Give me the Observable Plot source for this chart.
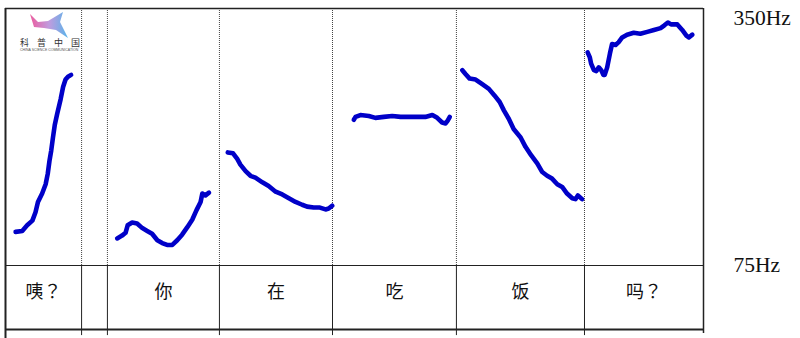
<!DOCTYPE html>
<html>
<head>
<meta charset="utf-8">
<script src="https://cdn.jsdelivr.net/npm/d3@7"></script>
<script src="https://cdn.jsdelivr.net/npm/@observablehq/plot@0.6"></script>
<style>
  body { margin: 0; background: #fff; }
  #chart { position: relative; width: 800px; height: 338px; overflow: hidden; }
  #logo { position: absolute; left: 0; top: 0; }
</style>
</head>
<body>
<div id="chart"></div>
<script>
// ---- data ----
const syllables = ["咦？", "", "你", "在", "吃", "饭", "吗？"];
const boundaries = [0, 0.218, 0.292, 0.613, 0.937, 1.292, 1.659, 2.0]; // seconds
const hzTicks = [350, 75];

const yiT  = [0.029,0.048,0.062,0.077,0.086,0.093,0.105,0.115,0.121,0.126,0.131,0.136,0.141,0.148,0.158,0.165,0.172,0.179,0.188];
const yiHz = [111,112,118,123,132,143,152,162,173,187,198,212,225,237,253,266,274,277,279];

const niT  = [0.320,0.334,0.344,0.350,0.363,0.377,0.392,0.406,0.420,0.435,0.449,0.463,0.478,0.492,0.506,0.521,0.535,0.547,0.559,0.564,0.573,0.583];
const niHz = [104,107,110,118,121,120,115,112,109,102,99,97,97,102,108,116,124,134,143,152,150,153];

const zaiT  = [0.637,0.652,0.664,0.673,0.688,0.702,0.716,0.736,0.754,0.774,0.793,0.812,0.831,0.850,0.864,0.883,0.901,0.917,0.926,0.936];
const zaiHz = [196,195,189,183,176,171,169,164,160,154,151,147,143,140,138,137,137,135,136,139];

const chiT  = [0.998,1.003,1.017,1.041,1.060,1.084,1.108,1.132,1.156,1.180,1.203,1.223,1.237,1.251,1.261,1.267,1.273];
const chiHz = [231,234,236,235,233,234,235,234,234,234,234,236,233,228,227,230,234];

const fanT  = [1.309,1.318,1.330,1.347,1.366,1.385,1.401,1.416,1.428,1.442,1.456,1.476,1.490,1.506,1.524,1.538,1.552,1.566,1.581,1.595,1.609,1.624,1.633,1.640,1.652];
const fanHz = [284,280,275,274,269,264,257,250,241,232,221,212,202,193,184,175,171,168,162,159,152,147,146,150,146];

const maT  = [1.668,1.674,1.678,1.686,1.693,1.700,1.707,1.713,1.717,1.724,1.732,1.738,1.748,1.757,1.767,1.781,1.800,1.819,1.839,1.858,1.877,1.888,1.898,1.907,1.925,1.939,1.951,1.958,1.968];
const maHz = [303,298,291,284,283,287,284,279,279,287,302,312,311,314,319,322,324,323,325,327,329,332,335,333,333,327,321,319,322];

// ---- tables built from the arrays ----
const segments = [["咦", yiT, yiHz], ["你", niT, niHz], ["在", zaiT, zaiHz], ["吃", chiT, chiHz], ["饭", fanT, fanHz], ["吗", maT, maHz]];
const contour = segments.flatMap(([seg, ts, hs]) => ts.map((t, i) => ({seg, t, hz: hs[i]})));
const cells = syllables.map((label, i) => ({label, x: (boundaries[i] + boundaries[i + 1]) / 2}));
const inner = boundaries.slice(1, -1);

const lineColor = "#222";
const hzFont = "'Liberation Serif', 'Times New Roman', serif";
const chart = Plot.plot({
  width: 800,
  height: 338,
  marginTop: 8,
  marginBottom: 9,
  marginLeft: 5,
  marginRight: 97,
  x: {domain: [boundaries[0], boundaries[boundaries.length - 1]], axis: null},
  y: {domain: [75, 350], range: [265, 8], axis: null},
  style: {background: "white", overflow: "visible"},
  marks: [
    Plot.ruleX(inner, {y1: 75, y2: 350, stroke: "#444", strokeWidth: 1, strokeDasharray: "1,1"}),
    Plot.ruleX(inner, {y1: 75, stroke: lineColor, strokeWidth: 1}),
    Plot.ruleY([350], {stroke: lineColor, strokeWidth: 1.5}),
    Plot.ruleY([75], {stroke: lineColor, strokeWidth: 1.2}),
    Plot.ruleY([75], {dy: 64, stroke: lineColor, strokeWidth: 1.8}),
    Plot.ruleX([boundaries[0]], {stroke: lineColor, strokeWidth: 2, insetBottom: -9}),
    Plot.ruleX([boundaries[boundaries.length - 1]], {stroke: lineColor, strokeWidth: 1.5, insetBottom: -4}),
    Plot.line(contour, {x: "t", y: "hz", z: "seg", stroke: "#0000c8", strokeWidth: 4.6, strokeLinecap: "round", strokeLinejoin: "round"}),
    Plot.text(cells, {x: "x", text: "label", frameAnchor: "bottom", dy: -37, lineAnchor: "middle", fontSize: 18, fill: "#111", fontFamily: "'Noto Sans CJK TC', 'Noto Sans CJK SC', sans-serif"}),
    Plot.text([hzTicks[0]], {y: d => d, text: d => `${d}Hz`, frameAnchor: "right", dx: 30, dy: 10, textAnchor: "start", lineAnchor: "middle", fontSize: 21.5, fill: "#111", fontFamily: hzFont}),
    Plot.text([hzTicks[1]], {y: d => d, text: d => `${d}Hz`, frameAnchor: "right", dx: 30, dy: 0, textAnchor: "start", lineAnchor: "middle", fontSize: 21.5, fill: "#111", fontFamily: hzFont})
  ]
});
const host = document.getElementById("chart");
host.appendChild(chart);

// small watermark logo in the top-left corner
host.insertAdjacentHTML("beforeend", `
<svg id="logo" width="100" height="55" xmlns="http://www.w3.org/2000/svg">
  <defs>
    <linearGradient id="lg" x1="0" y1="0" x2="1" y2="0">
      <stop offset="0" stop-color="#e8408e"/>
      <stop offset="0.5" stop-color="#b58ad8"/>
      <stop offset="1" stop-color="#3aa6e6"/>
    </linearGradient>
  </defs>
  <path d="M30,14 L38,22 L48,21 L58,15 L63,12 L60,22 L68,38 L56,30 L44,28 L34,27 Z" fill="url(#lg)" opacity="0.85"/>
  <text x="20" y="46" font-size="9" fill="#333" font-family="'Noto Sans CJK SC', sans-serif" letter-spacing="8">科普中国</text>
  <text x="20" y="51" font-size="3.5" fill="#555" font-family="sans-serif">CHINA SCIENCE COMMUNICATION</text>
</svg>`);
</script>
</body>
</html>
